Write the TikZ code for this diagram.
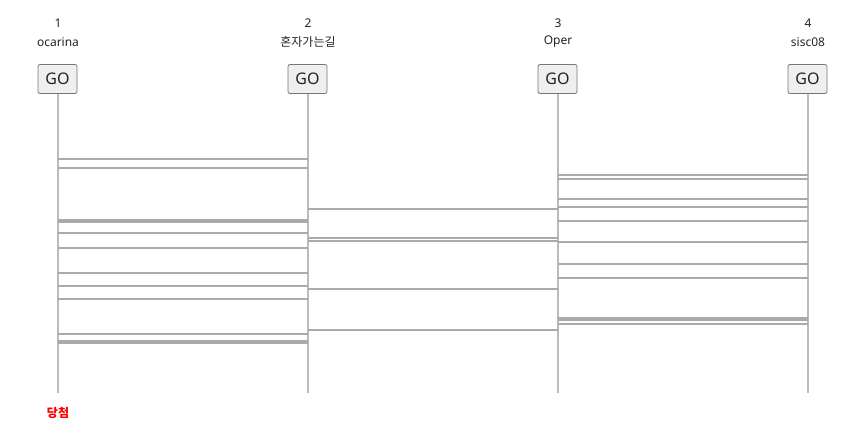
\documentclass[tikz,border=0pt]{standalone}
\usepackage{fontspec}
\setmainfont{Noto Sans}
\newfontfamily\kr{Noto Sans CJK KR}
\definecolor{vline}{HTML}{BBBBBB}
\definecolor{rungc}{HTML}{AAAAAA}
\definecolor{btnfill}{HTML}{EFEFEF}
\definecolor{btnline}{HTML}{767676}
\definecolor{txt}{HTML}{222222}
\begin{document}
\begin{tikzpicture}[x=1pt,y=-1pt,
  btn/.style={draw=btnline, fill=btnfill, rounded corners=2pt, minimum width=39pt,
    minimum height=29pt, inner sep=0pt, line width=0.8pt,
    font=\fontsize{16}{18}\selectfont, text=txt},
  lbl/.style={inner sep=0pt, font=\fontsize{12}{14}\selectfont, text=txt},
  rail/.style={draw=vline, line width=2pt},
  rung/.style={draw=rungc, line width=2pt},
  win/.style={inner sep=0pt, font=\kr\bfseries\fontsize{12}{14}\selectfont, text=red}]
\useasboundingbox (0,0) rectangle (861,440);

% column labels
\node[lbl] (n1) at (58,23) {1};
\node[lbl] (t1) at (58,42) {ocarina};
\node[lbl] (n2) at (308,23) {2};
\node[lbl] (t2) at (308,42) {\kr 혼자가는길};
\node[lbl] (n3) at (558,23) {3};
\node[lbl] (t3) at (558,42) {Oper};
\node[lbl] (n4) at (808,23) {4};
\node[lbl] (t4) at (808,42) {sisc08};

% buttons
\node[btn] (b1) at (57.5,79) {GO};
\node[btn] (b2) at (307.5,79) {GO};
\node[btn] (b3) at (557.5,79) {GO};
\node[btn] (b4) at (807.5,79) {GO};

% rail ends
\coordinate (e1) at (58,393);
\coordinate (e2) at (308,393);
\coordinate (e3) at (558,393);
\coordinate (e4) at (808,393);

% rails
\draw[rail] (b1.south -| e1) -- (e1);
\draw[rail] (b2.south -| e2) -- (e2);
\draw[rail] (b3.south -| e3) -- (e3);
\draw[rail] (b4.south -| e4) -- (e4);

% rungs 1-2
\foreach \y in {159,167.7,219.7,222.3,232.7,247.7,273,285.7,299,333.7,340.7,342.7}
  \draw[rung] (e1 |- 0,\y) -- (e2 |- 0,\y);
% rungs 2-3
\foreach \y in {209,237.7,240.7,289,330}
  \draw[rung] (e2 |- 0,\y) -- (e3 |- 0,\y);
% rungs 3-4
\foreach \y in {175,178.7,199,206.7,221,241.7,264,277.7,318,320.3,323.7}
  \draw[rung] (e3 |- 0,\y) -- (e4 |- 0,\y);

% result
\node[win] (w1) at (58,413) {당첨};
\end{tikzpicture}
\end{document}
